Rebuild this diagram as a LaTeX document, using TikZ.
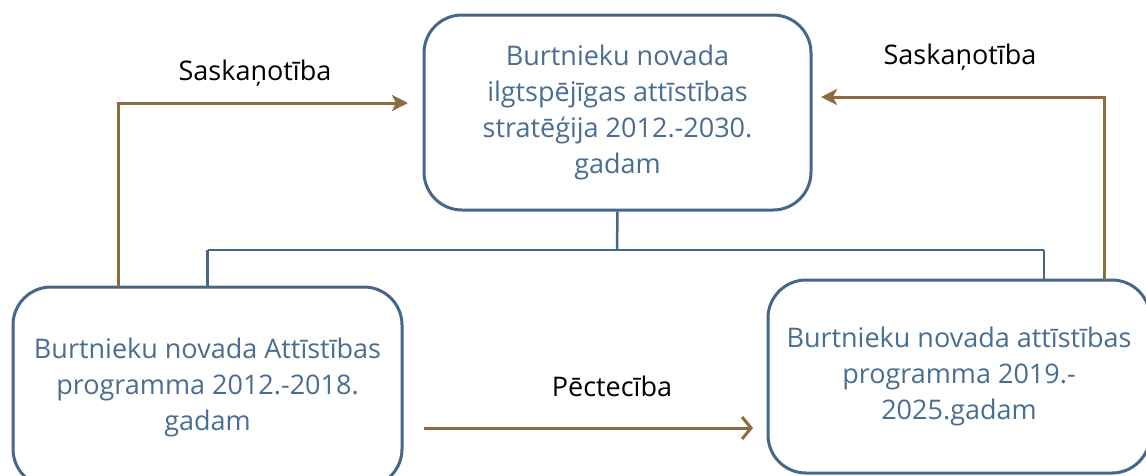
\documentclass[tikz,border=0pt]{standalone}
\usepackage{fontspec}
\setmainfont{Open Sans}
\usetikzlibrary{arrows.meta,calc}
\definecolor{boxblue}{RGB}{70,102,138}
\definecolor{txtblue}{RGB}{74,110,145}
\definecolor{brownline}{RGB}{140,106,66}
\tikzset{
  x=1pt,y=-1pt,
  docbox/.style={draw=boxblue,line width=3pt,rounded corners=38pt,fill=white,
    text=txtblue,align=center,inner sep=0pt,font=\fontsize{27}{36}\selectfont},
  treeline/.style={draw=boxblue,line width=2.5pt},
  brownarrow/.style={draw=brownline,line width=3pt,-{Stealth[length=16pt,width=16pt,inset=4pt]}},
  brownvee/.style={draw=brownline,line width=3pt,-{Straight Barb[length=9pt,width=22pt,line width=3pt]}},
  lbl/.style={text=black,inner sep=0pt,font=\fontsize{27}{30}\selectfont}
}
\begin{document}
\begin{tikzpicture}
\useasboundingbox (0,0) rectangle (1146,475);
\begin{scope}
\clip (0,0) rectangle (1146,475);
\node[docbox,minimum width=387pt,minimum height=195pt] (top) at (617.5,112.5)
  {Burtnieku novada\\ilgtspējīgas attīstības\\stratēģija 2012.-2030.\\gadam};
\node[docbox,minimum width=389pt,minimum height=200pt] (left) at (207.5,387)
  {Burtnieku novada Attīstības\\programma 2012.-2018.\\gadam};
\node[docbox,minimum width=382pt,minimum height=193pt] (right) at (959,376.5)
  {Burtnieku novada attīstības\\programma 2019.-\\2025.gadam};
\coordinate (junc) at (617,250);
\coordinate (lj) at (207.5,250);
\coordinate (rj) at (1044,250);
\coordinate (rjb) at (1044,280);
\draw[treeline] (top.south) -- (junc);
\draw[treeline] (lj) -- (rj);
\draw[treeline] (lj) -- (left.north);
\draw[treeline] (rj) -- (rjb);
\coordinate (ls) at (118,287);
\coordinate (le) at (408,103);
\draw[brownarrow] (ls) |- (le);
\coordinate (rs) at (1104,280);
\coordinate (re) at (821,97);
\draw[brownarrow] (rs) |- (re);
\coordinate (bs) at (424,428);
\coordinate (be) at (753,428);
\draw[brownvee] (bs) -- (be);
\node[lbl] (l1) at (255,73) {Saskaņotība};
\node[lbl] (l2) at (960,57) {Saskaņotība};
\node[lbl] (l3) at (612,386) {Pēctecība};
\end{scope}
\end{tikzpicture}
\end{document}
